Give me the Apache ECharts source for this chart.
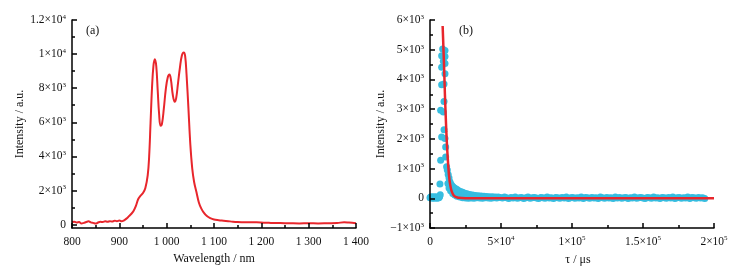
<!DOCTYPE html>
<html>
<head>
<meta charset="utf-8">
<script src="https://cdn.jsdelivr.net/npm/echarts@6/dist/echarts.min.js"></script>
<style>
  html, body { margin: 0; padding: 0; background: #fff; }
  #chart { width: 750px; height: 271px; }
</style>
</head>
<body>
<div id="chart"></div>
<script>
// (a) emission spectrum
const wavelength = [800, 805, 810, 815, 820, 825, 830, 835, 840, 845, 850, 855, 860, 865, 870, 875, 880, 885, 890, 895,
  900, 905, 910, 915, 920, 925, 930, 935, 940, 945, 950, 955, 960, 963, 966, 969, 972, 975, 978, 981, 984, 987, 990,
  994, 998, 1002, 1006, 1009, 1013, 1017, 1020, 1024, 1028, 1032, 1036, 1039, 1042, 1046, 1050, 1054, 1058, 1063,
  1068, 1073, 1078, 1085, 1092, 1100, 1110, 1120, 1130, 1140, 1150, 1160, 1175, 1190, 1205, 1220, 1240, 1260, 1280,
  1300, 1320, 1340, 1360, 1375, 1385, 1400]
const intensity = [150, 160, 120, 150, 60, 100, 150, 190, 130, 100, 60, 120, 160, 150, 190, 170, 200, 180, 230, 200,
  240, 190, 250, 350, 480, 620, 800, 1100, 1500, 1700, 1850, 2150, 2900, 4000, 6000, 8000, 9300, 9700, 9300, 7900,
  6500, 5800, 5900, 6800, 7900, 8600, 8800, 8500, 7600, 7200, 7400, 8300, 9200, 9900, 10100, 9900, 8800, 6800, 4700,
  3300, 2500, 1900, 1300, 950, 720, 500, 380, 300, 260, 230, 200, 170, 150, 140, 130, 130, 110, 100, 90, 80, 70,
  80, 70, 80, 90, 140, 120, 80]

// (b) decay: measured points (before the long tail) and fit
const decayPoints = [
  [0, 20], [400, 40], [800, 10], [1200, 30], [1600, 50], [2000, 20], [2400, 0], [2800, 40], [3200, 30], [3600, 10],
  [4000, 50], [4400, 20], [4800, 30], [5200, 0], [5600, 40], [6000, 20], [6400, 30], [6800, 60], [7200, 120],
  [7000, 480], [7500, 1280], [7500, 2960], [8200, 2060], [8200, 3820], [8200, 4410], [8200, 4800], [8900, 5020],
  [9400, 4610], [9400, 2900], [9860, 3850], [9860, 3260], [9860, 2310], [10560, 4970], [10560, 4770], [10560, 4540],
  [10560, 4190], [10560, 2010], [11030, 1730], [11030, 1390], [11700, 1060],
  [12200, 950], [12800, 800], [13400, 680], [14000, 560], [14700, 480], [15500, 420], [16400, 380], [17500, 340],
  [18800, 300], [20000, 260], [21500, 230], [23000, 200], [24500, 170], [26000, 150], [28000, 130], [30000, 110],
  [32000, 95], [34000, 85], [36000, 75], [38000, 70], [40000, 60], [42000, 55], [44000, 50], [46000, 45], [48000, 45],
  [12600, 500], [13400, 350], [14500, 250], [16000, 160], [17500, 110], [19000, 70], [21000, 40], [23000, 20],
  [25000, 10], [27000, 0], [29000, 10], [31000, 0], [33000, 20], [35000, 10], [37000, 0], [39000, 20], [41000, 10],
  [43000, 0], [45000, 20], [47000, 10]
]
// long flat tail, one point every 1.5×10^3 µs
const tailTime = [49500, 51000, 52500, 54000, 55500, 57000, 58500, 60000, 61500, 63000, 64500, 66000, 67500, 69000,
  70500, 72000, 73500, 75000, 76500, 78000, 79500, 81000, 82500, 84000, 85500, 87000, 88500, 90000, 91500, 93000,
  94500, 96000, 97500, 99000, 100500, 102000, 103500, 105000, 106500, 108000, 109500, 111000, 112500, 114000,
  115500, 117000, 118500, 120000, 121500, 123000, 124500, 126000, 127500, 129000, 130500, 132000, 133500, 135000,
  136500, 138000, 139500, 141000, 142500, 144000, 145500, 147000, 148500, 150000, 151500, 153000, 154500, 156000,
  157500, 159000, 160500, 162000, 163500, 165000, 166500, 168000, 169500, 171000, 172500, 174000, 175500, 177000,
  178500, 180000, 181500, 183000, 184500, 186000, 187500, 189000, 190500, 192000, 193500, 195000, 196500, 198000,
  199500]
const tailValue = [30, 10, 40, 20, -10, 30, 10, 40, 0, 20, 30, -10, 20, 40, 0, 20, 30, 10, -10, 30, 20, 0, 40, 10,
  20, -10, 30, 20, 0, 30, 10, 40, -10, 20, 30, 0, 20, 10, 40, -10, 30, 20, 0, 30, 10, 20, -10, 40, 20, 0, 30, 10,
  20, -10, 40, 10, 30, 0, 20, 30, -10, 20, 10, 40, 0, 20, 30, 10, -10, 30, 20, 0, 40, 10, 20, -10, 30, 20, 0, 30,
  10, 40, -10, 20, 30, 0, 20, 10, 40, -10, 30, 20, 0, 30, 10, 20, -10]
const fitTime = [8900, 9500, 10000, 10500, 11000, 11500, 12000, 12500, 13000, 13500, 14000, 15000, 16000, 17000,
  18500, 20000, 25000, 40000, 80000, 120000, 160000, 200000]
const fitValue = [5800, 5000, 4300, 3500, 2850, 2250, 1750, 1350, 1000, 720, 520, 280, 150, 80, 40, 20, 5, 0, 0, 0, 0, 0]

// tick labels
const aXTicks = [800, 900, 1000, 1100, 1200, 1300, 1400]
const aXLabels = ['800', '900', '1 000', '1 100', '1 200', '1 300', '1 400']
const aYTicks = [0, 2000, 4000, 6000, 8000, 10000, 12000]
const aYLabels = ['0', '2×10^3', '4×10^3', '6×10^3', '8×10^3', '1×10^4', '1.2×10^4']
const aYMinor = [1000, 3000, 5000, 7000, 9000, 11000]
const bXTicks = [0, 50000, 100000, 150000, 200000]
const bXLabels = ['0', '5×10^4', '1×10^5', '1.5×10^5', '2×10^5']
const bYTicks = [-1000, 0, 1000, 2000, 3000, 4000, 5000, 6000]
const bYLabels = ['−1×10^3', '0', '1×10^3', '2×10^3', '3×10^3', '4×10^3', '5×10^3', '6×10^3']

const font = 'Liberation Serif'
const red = '#e8262c'
const blue = '#36bde0'

function rich (s) {
  const m = s.match(/^(.*)\^(\d)$/)
  return m ? '{m|' + m[1] + '}{s|' + m[2] + '}' : '{m|' + s + '}'
}
// every axis gets its own fresh style objects
function label (ticks, labels, margin) {
  return {
    margin: margin,
    formatter: function (v) {
      const i = ticks.indexOf(v)
      return i < 0 ? '' : rich(labels[i])
    },
    rich: {
      m: { fontFamily: font, fontSize: 11.5, color: '#111', lineHeight: 13 },
      s: { fontFamily: font, fontSize: 7, color: '#111', verticalAlign: 'top', lineHeight: 13 }
    }
  }
}
function line () {
  return { show: true, onZero: false, lineStyle: { color: '#000', width: 1.5 } }
}
function tick (len, values) {
  const t = { show: true, inside: true, length: len, lineStyle: { color: '#000', width: 1.5 } }
  if (values) t.customValues = values
  return t
}
function minor () {
  return { show: true, splitNumber: 2, length: 3, lineStyle: { color: '#000', width: 1.5 } }
}
function nameStyle () {
  return { fontFamily: font, fontSize: 12, color: '#111' }
}

const chart = echarts.init(document.getElementById('chart'))
chart.setOption({
  animation: false,
  grid: [
    { left: 72, top: 20, width: 284, height: 208, outerBoundsMode: 'none' },
    { left: 430, top: 20, width: 284, height: 208, outerBoundsMode: 'none' }
  ],
  xAxis: [{
    gridIndex: 0, type: 'value', position: 'bottom', z: 10, min: 800, max: 1400, interval: 100,
    name: 'Wavelength / nm', nameLocation: 'middle', nameGap: 25, nameTextStyle: nameStyle(),
    axisLine: line(), axisTick: tick(5), minorTick: minor(),
    axisLabel: label(aXTicks, aXLabels, 7),
    splitLine: { show: false }, minorSplitLine: { show: false }
  }, {
    gridIndex: 1, type: 'value', position: 'bottom', z: 10, min: 0, max: 200000, interval: 50000,
    name: 'τ / μs', nameLocation: 'middle', nameGap: 26,
    nameTextStyle: { fontFamily: font, fontSize: 12, color: '#111', padding: [0, 0, 0, 12] },
    axisLine: line(), axisTick: tick(5), minorTick: minor(),
    axisLabel: label(bXTicks, bXLabels, 7),
    splitLine: { show: false }, minorSplitLine: { show: false }
  }],
  yAxis: [{
    gridIndex: 0, type: 'value', position: 'left', z: 10, min: -200, max: 12000,
    name: 'Intensity / a.u.', nameLocation: 'middle', nameGap: 45, nameTextStyle: nameStyle(),
    axisLine: line(), axisTick: tick(5, aYTicks),
    axisLabel: Object.assign(label(aYTicks, aYLabels, 6), { customValues: aYTicks }),
    splitLine: { show: false }
  }, {
    gridIndex: 0, type: 'value', position: 'left', z: 10, offset: 0, min: -200, max: 12000,
    axisLine: { show: false, onZero: false }, axisTick: tick(3, aYMinor),
    axisLabel: { show: false },
    splitLine: { show: false }
  }, {
    gridIndex: 1, type: 'value', position: 'left', z: 10, min: -1000, max: 6000, interval: 1000,
    name: 'Intensity / a.u.', nameLocation: 'middle', nameGap: 43, nameTextStyle: nameStyle(),
    axisLine: line(), axisTick: tick(5), minorTick: minor(),
    axisLabel: label(bYTicks, bYLabels, 6),
    splitLine: { show: false }, minorSplitLine: { show: false }
  }],
  graphic: [
    { type: 'text', left: 86, top: 25, style: { text: '(a)', fontFamily: font, fontSize: 12, fill: '#111' } },
    { type: 'text', left: 459, top: 25, style: { text: '(b)', fontFamily: font, fontSize: 12, fill: '#111' } }
  ],
  series: [{
    type: 'line', xAxisIndex: 0, yAxisIndex: 0,
    data: wavelength.map((w, i) => [w, intensity[i]]),
    smooth: 0.4, showSymbol: false,
    lineStyle: { color: red, width: 2 }
  }, {
    type: 'scatter', xAxisIndex: 1, yAxisIndex: 2,
    data: decayPoints.concat(tailTime.map((t, i) => [t, tailValue[i]])),
    symbolSize: 7,
    itemStyle: { color: blue, opacity: 1 }
  }, {
    type: 'line', xAxisIndex: 1, yAxisIndex: 2, z: 5,
    data: fitTime.map((t, i) => [t, fitValue[i]]),
    smooth: 0.3, showSymbol: false,
    lineStyle: { color: red, width: 2.5 }
  }]
})
</script>
</body>
</html>
